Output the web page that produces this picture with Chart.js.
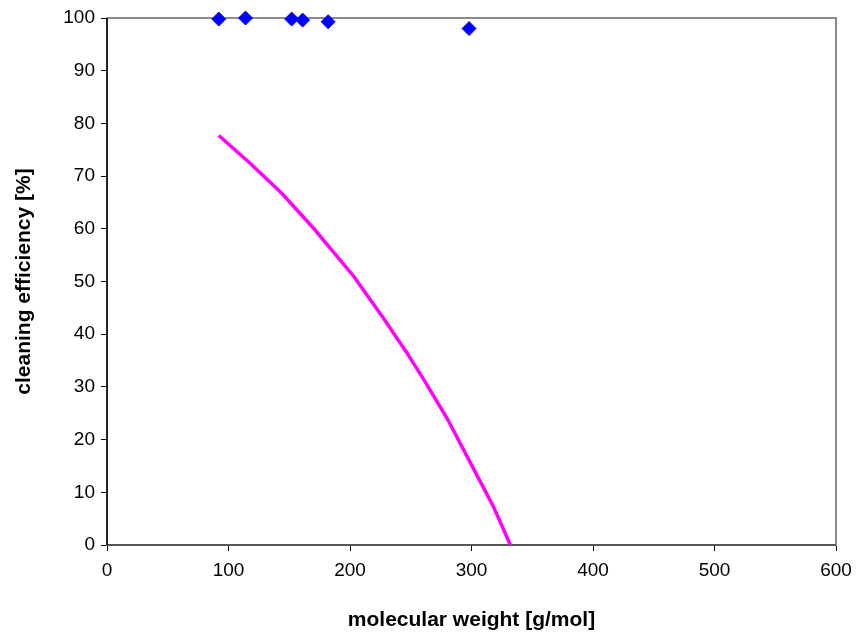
<!DOCTYPE html>
<html>
<head>
<meta charset="utf-8">
<script src="https://cdn.jsdelivr.net/npm/chart.js@4/dist/chart.umd.min.js"></script>
<style>
  html, body { margin: 0; padding: 0; background: #fff; }
  #wrap { width: 857px; height: 633px; }
</style>
</head>
<body>
<div id="wrap"><canvas id="myChart" width="857" height="633"></canvas></div>
<script>
// measured points
const weightMeasured = [92, 114, 152, 161, 182, 298];
const efficiencyMeasured = [99.8, 100, 99.8, 99.6, 99.3, 98.0];

// model curve
const weightModel = [92, 118, 144, 170, 203, 227, 247, 261, 280, 300, 318, 332];
const efficiencyModel = [77.7, 72.4, 66.7, 60.1, 51.0, 43.2, 36.4, 31.3, 24.0, 15.2, 7.3, 0];

const xTicks = [0, 100, 200, 300, 400, 500, 600];
const yTicks = [0, 10, 20, 30, 40, 50, 60, 70, 80, 90, 100];

const toXY = (xs, ys) => xs.map((x, i) => ({x: x, y: ys[i]}));

const plotBox = {
    id: 'plotBox',
    beforeDatasetsDraw(chart) {
        const {ctx, chartArea: a} = chart;
        ctx.save();
        ctx.strokeStyle = '#8c8c8c';
        ctx.lineWidth = 2;
        ctx.strokeRect(a.left, a.top, a.right - a.left, a.bottom - a.top);
        ctx.strokeStyle = '#555';
        ctx.beginPath();
        ctx.moveTo(a.left, a.bottom);
        ctx.lineTo(a.right, a.bottom);
        ctx.stroke();
        ctx.strokeStyle = '#000';
        ctx.lineWidth = 1.5;
        ctx.beginPath();
        ctx.moveTo(a.left, a.top);
        ctx.lineTo(a.left, a.bottom);
        ctx.stroke();
        ctx.restore();
    }
};

const tickFont = {family: 'Liberation Sans', size: 19};
const titleFont = {family: 'Liberation Sans', size: 21, weight: 'bold'};

const ctx = document.getElementById('myChart').getContext('2d');
let chart = new Chart(ctx, {
    type: 'scatter',
    data: {
        datasets: [
            {
                label: 'model',
                data: toXY(weightModel, efficiencyModel),
                showLine: true,
                borderColor: '#ff00ff',
                borderWidth: 3.5,
                pointRadius: 0,
                tension: 0,
                order: 2,
            },
            {
                label: 'measured',
                data: toXY(weightMeasured, efficiencyMeasured),
                backgroundColor: '#0000ff',
                borderColor: '#0000ff',
                pointStyle: 'rectRot',
                pointRadius: 7,
                clip: false,
                order: 1,
            },
        ],
    },
    options: {
        responsive: false,
        animation: false,
        layout: {padding: {top: 18, right: 21, left: 0, bottom: 0}},
        plugins: {legend: {display: false}, tooltip: {enabled: false}},
        scales: {
            x: {
                type: 'linear',
                min: 0,
                max: 600,
                afterBuildTicks: (axis) => { axis.ticks = xTicks.map(v => ({value: v})); },
                afterFit: (axis) => { axis.height = 88; axis.paddingRight = 0; axis.paddingLeft = 0; },
                grid: {drawOnChartArea: false, tickLength: 6, color: '#000', tickColor: '#000'},
                border: {display: false},
                ticks: {color: '#000', font: tickFont, padding: 8, maxRotation: 0},
                title: {
                    display: true,
                    text: 'molecular weight [g/mol]',
                    color: '#000',
                    font: titleFont,
                    padding: {top: 20, bottom: 0},
                },
            },
            y: {
                min: 0,
                max: 100,
                afterBuildTicks: (axis) => { axis.ticks = yTicks.map(v => ({value: v})); },
                afterFit: (axis) => { axis.width = 107; },
                grid: {drawOnChartArea: false, tickLength: 6, color: '#000', tickColor: '#000'},
                border: {display: false},
                ticks: {color: '#000', font: tickFont, padding: 6},
                title: {
                    display: true,
                    text: 'cleaning efficiency [%]',
                    color: '#000',
                    font: titleFont,
                    padding: {top: 12, bottom: 0},
                },
            },
        },
    },
    plugins: [plotBox],
});
</script>
</body>
</html>
